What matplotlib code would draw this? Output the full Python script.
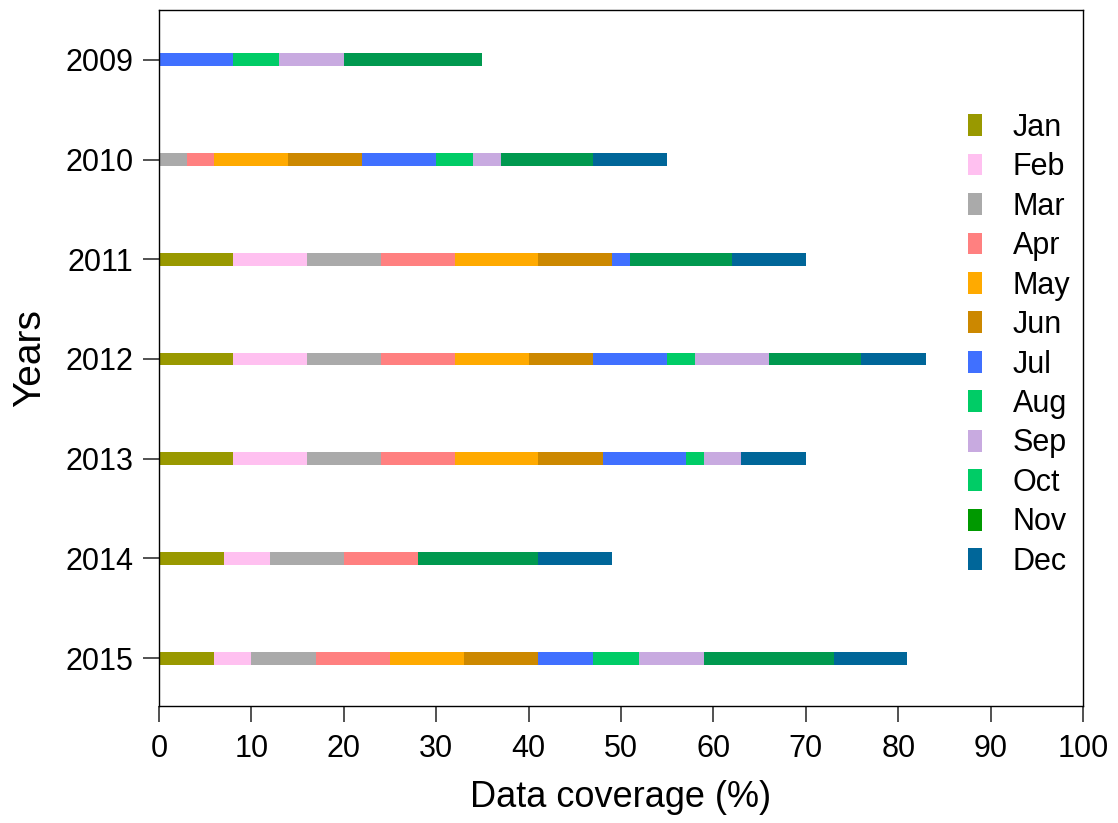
import matplotlib
matplotlib.use("Agg")
import matplotlib.pyplot as plt
from matplotlib.patches import Patch

plt.rcParams['font.family'] = ['Liberation Sans', 'DejaVu Sans']

years = ["2009", "2010", "2011", "2012", "2013", "2014", "2015"]
months = ["Jan", "Feb", "Mar", "Apr", "May", "Jun", "Jul", "Aug", "Sep", "Oct", "Nov", "Dec"]

# coverage (%) contributed by each month, per year (rows follow `years`)
jan = [0, 0, 8, 8, 8, 7, 6]
feb = [0, 0, 8, 8, 8, 5, 4]
mar = [0, 3, 8, 8, 8, 8, 7]
apr = [0, 3, 8, 8, 8, 8, 8]
may = [0, 8, 9, 8, 9, 0, 8]
jun = [0, 8, 8, 7, 7, 0, 8]
jul = [8, 8, 2, 8, 9, 0, 6]
aug = [5, 4, 0, 3, 2, 0, 5]
sep = [7, 3, 0, 8, 4, 0, 7]
oct_ = [0, 0, 0, 0, 0, 0, 0]
nov = [15, 10, 11, 10, 0, 13, 14]
dec = [0, 8, 8, 7, 7, 8, 8]

series = [jan, feb, mar, apr, may, jun, jul, aug, sep, oct_, nov, dec]
bar_colors = ["#999900", "#FFC0F0", "#AAAAAA", "#FF8080", "#FFAA00", "#CC8800",
              "#4070FF", "#00CC66", "#C8AAE0", "#00CC66", "#00994F", "#006699"]
legend_colors = ["#999900", "#FFC0F0", "#AAAAAA", "#FF8080", "#FFAA00", "#CC8800",
                 "#4070FF", "#00CC66", "#C8AAE0", "#00CC66", "#009900", "#006699"]

fig = plt.figure(figsize=(11.18, 8.23), dpi=100)
ax = fig.add_axes([159/1118, 1 - 706/823, (1083-159)/1118, (706-10)/823])

ypos = list(range(len(years)))
left = [0] * len(years)
for vals, col in zip(series, bar_colors):
    ax.barh(ypos, vals, left=left, height=0.13, color=col, edgecolor='none')
    left = [l + v for l, v in zip(left, vals)]

ax.set_ylim(6.48, -0.5)
ax.set_xlim(0, 100)
ax.set_yticks(ypos)
ax.set_yticklabels(years)
ax.set_xticks(range(0, 101, 10))
ax.tick_params(axis='both', direction='out', length=11.5, width=1.2,
               color='#333333', labelsize=22)
ax.tick_params(axis='y', pad=7)
ax.tick_params(axis='x', pad=9)
for s in ax.spines.values():
    s.set_linewidth(1.0)

ax.set_xlabel("Data coverage (%)", fontsize=26, labelpad=11)
ax.set_ylabel("Years", fontsize=28, labelpad=12)

handles = [Patch(facecolor=c, edgecolor='none') for c in legend_colors]
ax.legend(handles, months, loc='upper left', bbox_to_anchor=(0.8457, 0.892),
          frameon=False, fontsize=22, handlelength=0.46, handleheight=0.72,
          handletextpad=1.0, labelspacing=0.31)

fig.savefig("out.png", dpi=100)
